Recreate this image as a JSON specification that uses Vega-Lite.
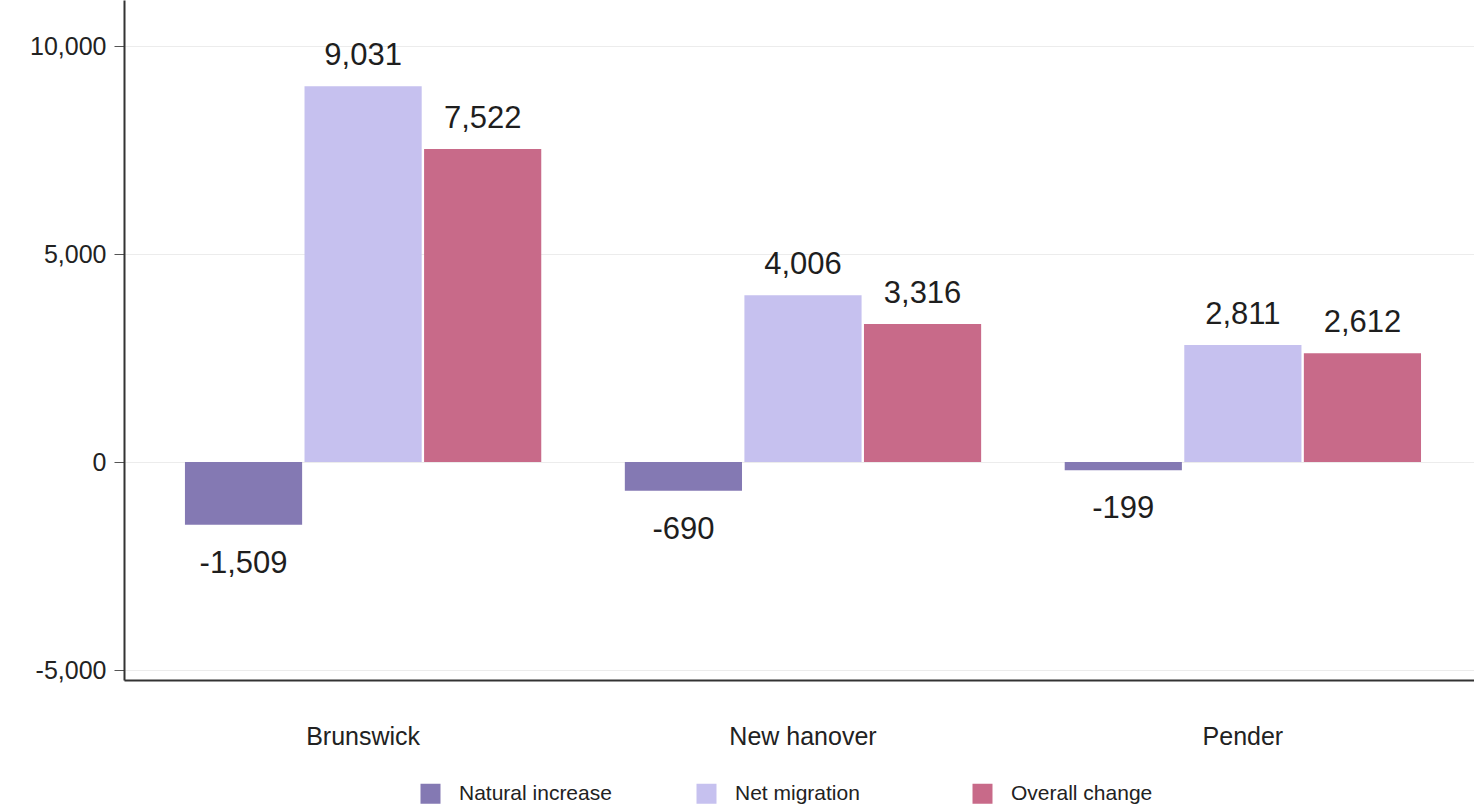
{
  "$schema": "https://vega.github.io/schema/vega-lite/v6.json",
  "autosize": "none",
  "padding": {"left": 124, "top": 0, "right": 0, "bottom": 128},
  "width": 1350,
  "height": 680,
  "background": "white",
  "config": {
    "view": {"stroke": null},
    "font": "Liberation Sans",
    "locale": {
      "number": {"decimal": ".", "thousands": ",", "grouping": [3], "currency": ["$", ""], "minus": "-"}
    }
  },
  "data": {
    "values": [
      {"county": "Brunswick", "component": "Natural increase", "value": -1509},
      {"county": "Brunswick", "component": "Net migration", "value": 9031},
      {"county": "Brunswick", "component": "Overall change", "value": 7522},
      {"county": "New hanover", "component": "Natural increase", "value": -690},
      {"county": "New hanover", "component": "Net migration", "value": 4006},
      {"county": "New hanover", "component": "Overall change", "value": 3316},
      {"county": "Pender", "component": "Natural increase", "value": -199},
      {"county": "Pender", "component": "Net migration", "value": 2811},
      {"county": "Pender", "component": "Overall change", "value": 2612}
    ]
  },
  "encoding": {
    "x": {
      "field": "county",
      "type": "nominal",
      "sort": ["Brunswick", "New hanover", "Pender"],
      "scale": {"paddingInner": 0.19, "paddingOuter": 0.1295, "align": 0.535},
      "axis": {
        "title": null,
        "labelAngle": 0,
        "ticks": false,
        "tickSize": 0,
        "labelPadding": 44,
        "labelFontSize": 25,
        "labelColor": "#222222",
        "labelFont": "Liberation Sans",
        "domainColor": "#333333",
        "domainWidth": 2,
        "grid": false
      }
    },
    "xOffset": {
      "field": "component",
      "type": "nominal",
      "sort": ["Natural increase", "Net migration", "Overall change"],
      "scale": {"paddingInner": 0.02}
    },
    "y": {
      "field": "value",
      "type": "quantitative",
      "scale": {"domain": [-5240, 11106], "nice": false, "zero": false},
      "axis": {
        "title": null,
        "values": [-5000, 0, 5000, 10000],
        "format": ",d",
        "labelFontSize": 25,
        "labelColor": "#222222",
        "labelPadding": 8,
        "tickSize": 10,
        "tickColor": "#555555",
        "domainColor": "#333333",
        "domainWidth": 2,
        "gridColor": "#ececec",
        "gridWidth": 1
      }
    }
  },
  "layer": [
    {
      "mark": {"type": "bar"},
      "encoding": {
        "color": {
          "field": "component",
          "type": "nominal",
          "sort": ["Natural increase", "Net migration", "Overall change"],
          "scale": {
            "domain": ["Natural increase", "Net migration", "Overall change"],
            "range": ["#8479b3", "#c6c1ef", "#c86a89"]
          },
          "legend": {
            "title": null,
            "orient": "none",
            "direction": "horizontal",
            "legendX": 296,
            "legendY": 783,
            "gridAlign": "all",
            "symbolType": "square",
            "symbolSize": 400,
            "symbolStrokeWidth": 0,
            "symbolOpacity": 1,
            "labelFontSize": 21,
            "labelColor": "#222222",
            "labelOffset": 18,
            "columnPadding": 84
          }
        }
      }
    },
    {
      "transform": [{"filter": "datum.value >= 0"}],
      "mark": {"type": "text", "baseline": "alphabetic", "dy": -21, "fontSize": 31, "color": "#1e1e1e"},
      "encoding": {"text": {"field": "value", "type": "quantitative", "format": ",d"}}
    },
    {
      "transform": [{"filter": "datum.value < 0"}],
      "mark": {"type": "text", "baseline": "alphabetic", "dy": 48, "fontSize": 31, "color": "#1e1e1e"},
      "encoding": {"text": {"field": "value", "type": "quantitative", "format": ",d"}}
    }
  ]
}
